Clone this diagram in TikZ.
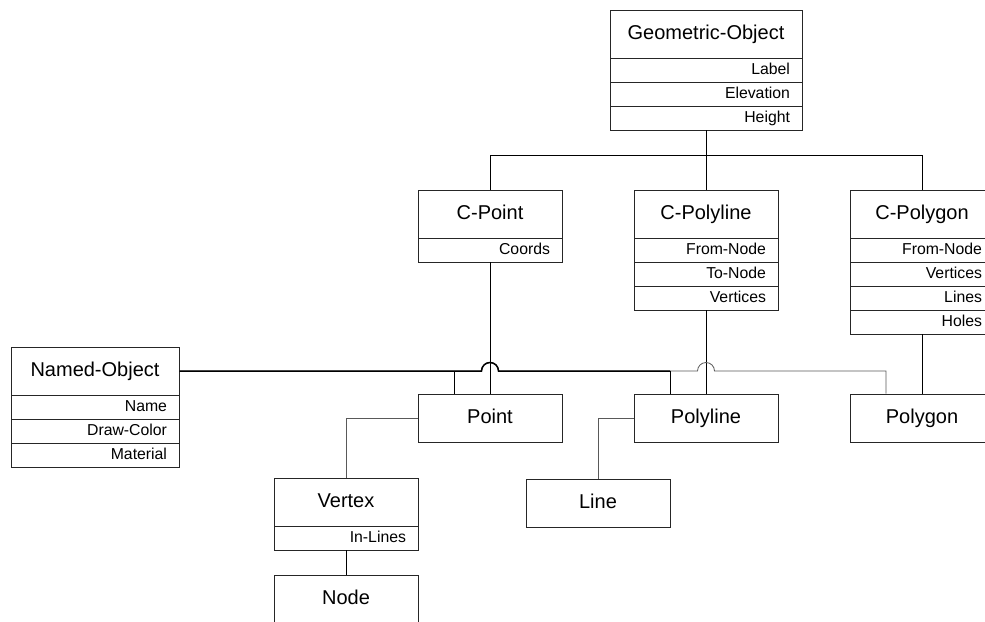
\documentclass[tikz,border=0pt]{standalone}
\usepackage{fontspec}
\setmainfont{Liberation Sans}
\begin{document}
\begin{tikzpicture}[x=1pt,y=1pt,
  box/.style={draw=black!85, line width=0.8pt},
  hdr/.style={box, minimum width=#1, minimum height=48pt, inner sep=0pt,
    text height=14.5pt, text depth=4pt, font=\fontsize{20}{24}\selectfont},
  hdr/.default=144pt,
  row/.style 2 args={box, minimum width=#1, text width=#2, minimum height=24pt,
    inner xsep=0pt, inner ysep=0pt, text height=11.5pt, text depth=3.5pt,
    align=right, font=\fontsize{15.8}{18}\selectfont},
  conn/.style={draw=black, line width=0.8pt},
  connsoft/.style={draw=black!65, line width=0.8pt},
  connbold/.style={draw=black, line width=1.5pt}]
\useasboundingbox (0,0) rectangle (985,-621);
\clip (0,0) rectangle (985,-621);

% ---- classes with attribute rows ----
\node[hdr=192pt] (gobj) at (706,-34) {Geometric-Object};
\node[row={192pt}{168pt}] (gobj1) at (706,-70) {Label};
\node[row={192pt}{168pt}] (gobj2) at (706,-94) {Elevation};
\node[row={192pt}{168pt}] (gobj3) at (706,-118) {Height};

\node[hdr] (cpoint) at (490,-214) {C-Point};
\node[row={144pt}{120pt}] (cpoint1) at (490,-250) {Coords};

\node[hdr] (cpolyline) at (706,-214) {C-Polyline};
\node[row={144pt}{120pt}] (cpolyline1) at (706,-250) {From-Node};
\node[row={144pt}{120pt}] (cpolyline2) at (706,-274) {To-Node};
\node[row={144pt}{120pt}] (cpolyline3) at (706,-298) {Vertices};

\node[hdr] (cpolygon) at (922,-214) {C-Polygon};
\node[row={144pt}{120pt}] (cpolygon1) at (922,-250) {From-Node};
\node[row={144pt}{120pt}] (cpolygon2) at (922,-274) {Vertices};
\node[row={144pt}{120pt}] (cpolygon3) at (922,-298) {Lines};
\node[row={144pt}{120pt}] (cpolygon4) at (922,-322) {Holes};

\node[hdr=168pt] (named) at (95,-371) {Named-Object};
\node[row={168pt}{144pt}] (named1) at (95,-407) {Name};
\node[row={168pt}{144pt}] (named2) at (95,-431) {Draw-Color};
\node[row={168pt}{144pt}] (named3) at (95,-455) {Material};

\node[hdr] (vertex) at (346,-502) {Vertex};
\node[row={144pt}{120pt}] (vertex1) at (346,-538) {In-Lines};

% ---- plain classes ----
\node[hdr] (point) at (490,-418) {Point};
\node[hdr] (polyline) at (706,-418) {Polyline};
\node[hdr] (polygon) at (922,-418) {Polygon};
\node[hdr] (line) at (598,-503) {Line};
\node[hdr] (node) at (346,-599) {Node};

% ---- generalisation tree under Geometric-Object ----
\coordinate (bus) at (706,-155);
\draw[conn] (gobj3.south) -- (bus);
\draw[conn] (bus) -| (cpoint.north);
\draw[conn] (bus) -- (cpolyline.north);
\draw[conn] (bus) -| (cpolygon.north);

\draw[conn] (cpoint1.south) -- (point.north);
\draw[conn] (cpolyline3.south) -- (polyline.north);
\draw[conn] (cpolygon4.south) -- (polygon.north);

% ---- Named-Object links, hopping over the vertical lines ----
\coordinate (hopA) at (490,-371);
\coordinate (hopB) at (706,-371);
\coordinate (kPoint) at (454,-371);
\coordinate (kPolyline) at (670,-371);
\coordinate (kPolygon) at (886,-371);

\draw[connsoft] (named.east) -- ([xshift=-8.5pt]hopA) arc (180:0:8.5pt)
  -- ([xshift=-8.5pt]hopB) arc (180:0:8.5pt) -- (kPolygon) -- (kPolygon |- polygon.north);
\draw[connbold] (named.east) -- ([xshift=-8.5pt]hopA) arc (180:0:8.5pt) -- (kPolyline);
\draw[conn] (kPolyline) -- (kPolyline |- polyline.north);
\draw[conn] (kPoint) -- (kPoint |- point.north);

% ---- remaining links ----
\draw[connsoft] (point.west) -| (vertex.north);
\draw[connsoft] (polyline.west) -| (line.north);
\draw[conn] (vertex1.south) -- (node.north);
\end{tikzpicture}
\end{document}
